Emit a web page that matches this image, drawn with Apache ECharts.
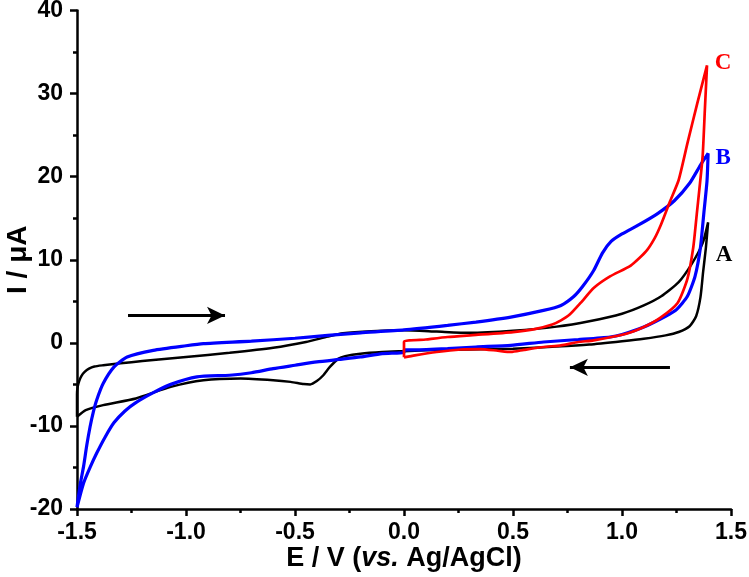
<!DOCTYPE html>
<html>
<head>
<meta charset="utf-8">
<script src="https://cdn.jsdelivr.net/npm/echarts@6/dist/echarts.min.js"></script>
<style>
html,body{margin:0;padding:0;background:#fff;}
#chart{width:749px;height:577px;}
</style>
</head>
<body>
<div id="chart"></div>
<script>
// Axis ticks
const xTicks = [-1.5, -1.0, -0.5, 0.0, 0.5, 1.0, 1.5];
const yTicks = [-20, -10, 0, 10, 20, 30, 40];

// Curve A (black): forward scan -1.5 -> 1.4 V, then reverse 1.4 -> -1.5 V  [E (V), I (uA)]
const aForward = [
  [-1.5,-8.9],[-1.5,-6.2],[-1.497,-5.3],[-1.49,-4.6],[-1.48,-4.0],[-1.465,-3.5],[-1.445,-3.1],[-1.42,-2.85],[-1.38,-2.7],[-1.30,-2.45],
  [-1.20,-2.2],[-1.00,-1.7],[-0.80,-1.2],[-0.60,-0.6],[-0.45,0.1],[-0.35,0.75],[-0.28,1.15],
  [-0.15,1.4],[0.0,1.5],[0.15,1.35],[0.3,1.2],[0.5,1.45],[0.7,1.95],[0.85,2.6],[1.0,3.5],
  [1.1,4.5],[1.18,5.6],[1.26,7.3],[1.32,9.5],[1.37,12.0],[1.395,14.5]
];
const aReverse = [
  [1.395,14.5],[1.385,11.5],[1.372,8.5],[1.36,5.5],[1.34,3.2],[1.31,2.0],[1.26,1.3],[1.2,0.9],
  [1.1,0.5],[1.0,0.2],[0.85,-0.2],[0.7,-0.45],[0.5,-0.7],[0.3,-0.8],[0.1,-0.9],[0.0,-1.0],
  [-0.1,-1.1],[-0.2,-1.3],[-0.27,-1.6],[-0.30,-1.9],[-0.34,-2.9],[-0.37,-3.9],[-0.40,-4.6],
  [-0.43,-5.0],[-0.46,-4.95],[-0.52,-4.7],[-0.60,-4.5],[-0.75,-4.3],[-0.92,-4.5],[-1.07,-5.3],
  [-1.23,-6.7],[-1.38,-7.5],[-1.46,-8.1],[-1.5,-8.9]
];

// Curve B (blue)
const bForward = [
  [-1.5,-19.8],[-1.485,-17.0],[-1.47,-14.9],[-1.455,-12.3],[-1.44,-10.1],[-1.425,-8.3],
  [-1.41,-6.9],[-1.38,-4.9],[-1.33,-2.9],[-1.27,-1.7],[-1.15,-0.9],[-1.0,-0.35],[-0.92,-0.1],
  [-0.7,0.2],[-0.5,0.55],[-0.35,0.9],[-0.2,1.2],[0.0,1.55],[0.2,2.1],[0.33,2.5],[0.49,3.1],
  [0.64,3.9],[0.72,4.5],[0.78,5.6],[0.82,6.8],[0.87,8.7],[0.91,10.8],[0.95,12.2],[1.0,13.1],
  [1.07,14.1],[1.16,15.5],[1.24,17.1],[1.31,19.2],[1.36,21.4],[1.395,22.8]
];
const bReverse = [
  [1.395,22.8],[1.39,19.5],[1.375,15.5],[1.36,11.5],[1.335,8.0],[1.30,5.6],[1.25,4.0],
  [1.2,3.2],[1.1,1.9],[1.0,1.0],[0.945,0.7],[0.8,0.4],[0.64,0.1],[0.49,-0.3],[0.33,-0.5],
  [0.2,-0.7],[0.05,-0.85],[0.0,-0.85],[0.0,-1.15],[-0.1,-1.3],[-0.2,-1.7],[-0.3,-2.0],
  [-0.4,-2.3],[-0.5,-2.7],[-0.6,-3.1],[-0.7,-3.6],[-0.8,-3.9],[-0.95,-4.1],[-1.07,-5.0],
  [-1.15,-6.0],[-1.23,-7.2],[-1.28,-8.2],[-1.33,-9.6],[-1.37,-11.3],[-1.41,-13.3],
  [-1.44,-15.0],[-1.47,-16.9],[-1.5,-19.8]
];

// Curve C (red): 0 -> 1.4 -> 0 V
const cForward = [
  [0.0,-1.75],[0.0,0.1],[0.1,0.4],[0.2,0.7],[0.33,0.95],[0.5,1.3],[0.6,1.65],[0.68,2.2],
  [0.72,2.7],[0.76,3.4],[0.81,4.8],[0.87,6.6],[0.945,8.0],[1.04,9.3],[1.11,11.0],[1.15,12.6],
  [1.18,14.3],[1.22,17.0],[1.26,19.6],[1.30,24.0],[1.345,28.8],[1.39,33.4]
];
const cReverse = [
  [1.39,33.4],[1.38,28.0],[1.37,22.5],[1.355,18.5],[1.343,15.5],[1.327,11.5],[1.30,7.7],
  [1.255,4.8],[1.175,3.0],[1.1,1.9],[1.02,1.1],[0.87,0.3],[0.8,0.1],[0.72,-0.3],[0.64,-0.5],
  [0.55,-0.85],[0.49,-1.1],[0.43,-0.95],[0.35,-0.75],[0.26,-0.8],[0.15,-1.1],[0.05,-1.5],
  [0.0,-1.75]
];

const curveNames = ['A', 'B', 'C'];
// Scan-direction arrows [from, to] in (E, I)
const arrowForward = [[-1.266, 3.3], [-0.821, 3.3]];
const arrowReverse = [[1.22, -2.95], [0.761, -2.95]];

const sansFont = 'Arial, "Liberation Sans", sans-serif';
const serifFont = '"Times New Roman", "Liberation Serif", serif';

const chart = echarts.init(document.getElementById('chart'));

function curveSeries(name, data, color, width, offset, z) {
  return {
    name: name,
    type: 'line',
    data: data,
    showSymbol: false,
    smooth: 0.2,
    z: z,
    lineStyle: { color: color, width: width },
    itemStyle: { color: color },
    animation: false,
    markPoint: {
      symbol: 'circle',
      symbolSize: 1,
      itemStyle: { color: 'rgba(0,0,0,0)' },
      data: [{ type: 'max' }],
      label: {
        show: true,
        formatter: name,
        color: color,
        fontFamily: serifFont,
        fontWeight: 'bold',
        fontSize: 23,
        offset: offset
      }
    }
  };
}

function arrowSeries(coords) {
  return {
    type: 'line',
    data: [],
    markLine: {
      silent: true,
      symbol: ['none', 'arrow'],
      symbolSize: [13, 18],
      lineStyle: { color: '#000', width: 3, type: 'solid' },
      label: { show: false },
      data: [[{ coord: coords[0] }, { coord: coords[1] }]]
    },
    animation: false
  };
}

const option = {
  backgroundColor: '#fff',
  animation: false,
  grid: { left: 77, right: 18, top: 10.5, bottom: 68, containLabel: false, outerBoundsMode: 'none' },
  xAxis: {
    type: 'value',
    min: xTicks[0],
    max: xTicks[xTicks.length - 1],
    interval: 0.5,
    name: 'E / V ({i|vs.} Ag/AgCl)',
    nameLocation: 'middle',
    nameGap: 36,
    nameMoveOverlap: false,
    nameTextStyle: {
      fontFamily: sansFont, fontWeight: 'bold', fontSize: 27, color: '#000',
      rich: { i: { fontFamily: sansFont, fontWeight: 'bold', fontStyle: 'italic', fontSize: 27, color: '#000' } }
    },
    axisLine: { show: true, onZero: false, lineStyle: { color: '#000', width: 2.5 } },
    axisTick: { show: true, inside: false, length: 7, lineStyle: { color: '#000', width: 2.5 } },
    minorTick: { show: true, splitNumber: 2, length: 4, lineStyle: { color: '#000', width: 2.5 } },
    splitLine: { show: false },
    axisLabel: {
      margin: 12, fontFamily: sansFont, fontWeight: 'bold', fontSize: 23, color: '#000',
      formatter: v => v.toFixed(1)
    }
  },
  yAxis: {
    type: 'value',
    min: yTicks[0],
    max: yTicks[yTicks.length - 1],
    interval: 10,
    name: 'I / μA',
    nameLocation: 'middle',
    nameGap: 45,
    nameRotate: 90,
    nameMoveOverlap: false,
    nameTextStyle: { fontFamily: sansFont, fontWeight: 'bold', fontSize: 28, color: '#000' },
    axisLine: { show: true, onZero: false, lineStyle: { color: '#000', width: 2.5 } },
    axisTick: { show: true, inside: false, length: 7, lineStyle: { color: '#000', width: 2.5 } },
    minorTick: { show: true, splitNumber: 2, length: 4, lineStyle: { color: '#000', width: 2.5 } },
    splitLine: { show: false },
    axisLabel: { margin: 14, fontFamily: sansFont, fontWeight: 'bold', fontSize: 23, color: '#000' }
  },
  series: [
    curveSeries(curveNames[0], aForward.concat(aReverse.slice(1)), '#000000', 2.5, [16, 33], 2),
    curveSeries(curveNames[1], bForward.concat(bReverse.slice(1)), '#0000ff', 3.2, [15, 5], 3),
    curveSeries(curveNames[2], cForward.concat(cReverse.slice(1)), '#ff0000', 2.7, [16, -2], 4),
    arrowSeries(arrowForward),
    arrowSeries(arrowReverse)
  ]
};
chart.setOption(option);
</script>
</body>
</html>
